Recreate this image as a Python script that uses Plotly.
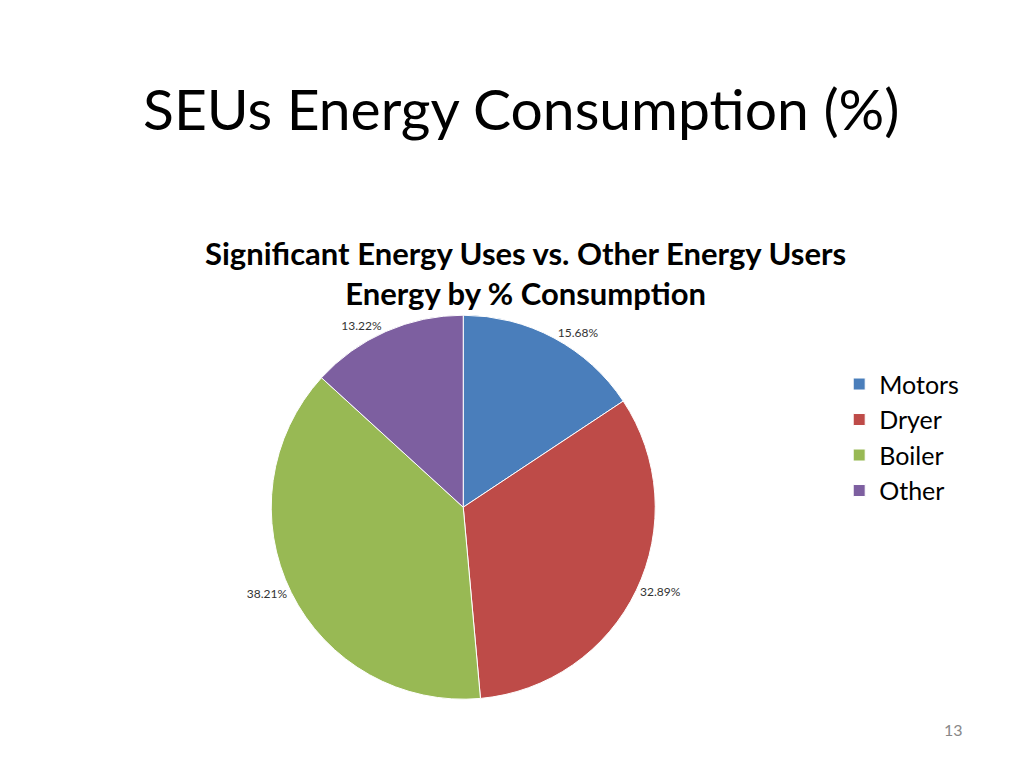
import plotly.graph_objects as go

labels = ["Motors", "Dryer", "Boiler", "Other"]
values = [15.68, 32.89, 38.21, 13.22]
colors = ["#4A7EBB", "#BE4B48", "#98B954", "#7D5FA0"]
text_labels = ["15.68%", "32.89%", "38.21%", "13.22%"]

fig = go.Figure(go.Pie(
    labels=labels, values=values, sort=False, direction="clockwise", rotation=0,
    marker=dict(colors=colors, line=dict(color="white", width=1)),
    text=text_labels, textinfo="text", textposition="outside",
    textfont=dict(size=12, color="#333"), outsidetextfont=dict(size=12, color="#333"),
    domain=dict(x=[0.09, 0.73], y=[0.1, 0.6]), showlegend=True,
))
fig.update_layout(
    width=1024, height=768, paper_bgcolor="white", plot_bgcolor="white",
    font=dict(family="Lato, sans-serif", color="black"),
    margin=dict(l=0, r=0, t=0, b=0),
    legend=dict(x=0.8, y=0.54, xanchor="left", yanchor="top", font=dict(size=25)),
    annotations=[
        dict(text="SEUs Energy Consumption (%)", x=0.47, y=0.87, xref="paper", yref="paper",
             showarrow=False, font=dict(size=57), xanchor="center", yanchor="middle"),
        dict(text="<b>Significant Energy Uses vs. Other Energy Users<br>Energy by % Consumption</b>",
             x=0.475, y=0.655, xref="paper", yref="paper", showarrow=False,
             font=dict(size=31), xanchor="center", yanchor="middle"),
        dict(text="13", x=0.93, y=0.045, xref="paper", yref="paper", showarrow=False,
             font=dict(size=16, color="#888")),
    ],
)
fig.write_html("out.html")
